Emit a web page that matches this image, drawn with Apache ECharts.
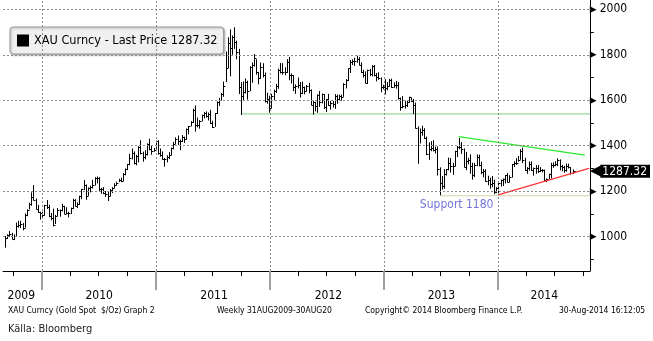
<!DOCTYPE html>
<html>
<head>
<meta charset="utf-8">
<script src="https://cdn.jsdelivr.net/npm/echarts@6/dist/echarts.min.js"></script>
<style>
  html, body { margin: 0; padding: 0; background: #fff; }
  #chart { width: 653px; height: 341px; }
</style>
</head>
<body>
<div id="chart"></div>
<script>
// Gold spot (XAU) weekly bars, week ending Friday, first bar 4 Sep 2009.
const firstWeek = '2009-09-04';

const closes = [
  996,1006,1011,992,1004,1049,1052,1056,1040,1096,1118,1145,1176,1162,1121,1110,1104,1096,
  1138,1131,1091,1083,1050,1092,1117,1118,1133,1102,1106,1105,1126,1162,1136,1142,1180,1209,1228,1177,1212,1218,1226,1256,1256,1208,1210,1190,1188,1181,1204,1215,1227,1237,1249,1246,1276,1296,1318,1346,1368,1325,1357,1394,1366,1352,1362,1406,1385,1379,1380,1421,
  1369,1360,1342,1341,1349,1361,1388,1409,1429,1421,1419,1437,1429,1474,1486,1504,1556,1491,1493,1511,1536,1542,1529,1539,1500,1483,1542,1593,1601,1628,1663,1742,1852,1828,1877,1856,1812,1657,1620,1636,1682,1642,1745,1753,1788,1724,1696,1746,1713,1598,1606,1566,
  1617,1640,1664,1731,1725,1725,1724,1770,1710,1711,1658,1662,1669,1631,1659,1642,1663,1645,1579,1592,1573,1622,1591,1627,1572,1604,1579,1589,1583,1619,1605,1620,1616,1671,1691,1740,1770,1772,1773,1780,1757,1724,1712,1676,1731,1714,1751,1713,1702,1696,1658,1657,
  1656,1662,1687,1658,1667,1667,1609,1572,1576,1577,1592,1613,1595,1581,1476,1404,1462,1470,1433,1365,1386,1392,1383,1387,1297,1234,1223,1277,1296,1322,1310,1312,1376,1396,1395,1387,1308,1332,1338,1310,1272,1315,1352,1315,1286,1287,1243,1250,1230,1234,1196,1213,
  1237,1248,1252,1270,1240,1263,1318,1323,1326,1339,1379,1336,1294,1303,1318,1294,1300,1302,1288,1293,1292,1250,1252,1274,1316,1316,1320,1337,1310,1307,1294,1310,1305,1280,1287.32
];

const highs = [
  1003,1010,1025,1017,1010,1062,1070,1070,1060,1102,1120,1150,1195,1227,1168,1140,1110,1110,
  1140,1161,1140,1104,1123,1096,1126,1120,1145,1136,1130,1110,1128,1167,1165,1151,1180,1210,1249,1230,1217,1225,1250,1262,1265,1262,1215,1218,1201,1197,1210,1218,1235,1242,1255,1259,1280,1300,1320,1365,1388,1375,1360,1398,1424,1374,1380,1411,1431,1400,1390,1422,
  1424,1388,1375,1346,1358,1372,1392,1417,1437,1445,1427,1447,1440,1476,1487,1508,1563,1577,1524,1513,1537,1548,1551,1546,1558,1510,1544,1595,1610,1632,1682,1814,1877,1912,1885,1921,1862,1826,1680,1683,1696,1686,1750,1766,1803,1780,1725,1766,1763,1722,1633,1620,
  1628,1647,1672,1739,1764,1763,1745,1781,1791,1718,1710,1670,1700,1680,1682,1660,1667,1676,1648,1598,1593,1626,1641,1630,1628,1605,1628,1597,1597,1627,1625,1625,1625,1675,1693,1740,1777,1780,1787,1796,1790,1767,1734,1727,1735,1738,1754,1755,1720,1723,1700,1668,
  1693,1680,1694,1695,1679,1685,1680,1612,1619,1598,1597,1616,1612,1606,1590,1485,1476,1488,1477,1440,1415,1420,1424,1396,1397,1305,1267,1297,1298,1348,1346,1325,1378,1399,1434,1416,1388,1373,1347,1362,1325,1325,1362,1361,1330,1298,1297,1268,1260,1267,1250,1218,
  1240,1251,1256,1271,1280,1270,1320,1332,1345,1355,1385,1392,1347,1306,1331,1331,1304,1315,1315,1306,1297,1295,1256,1277,1325,1327,1332,1345,1340,1316,1312,1322,1321,1305,1296
];

const lows = [
  952,990,1000,988,985,1002,1040,1038,1028,1040,1090,1120,1136,1160,1120,1105,1075,1086,
  1092,1122,1086,1072,1045,1056,1090,1088,1111,1100,1100,1085,1100,1122,1134,1126,1140,1165,1205,1162,1180,1195,1212,1225,1234,1198,1189,1187,1175,1157,1177,1192,1213,1225,1240,1240,1245,1270,1293,1314,1340,1318,1314,1327,1362,1330,1340,1357,1380,1360,1374,1376,
  1360,1352,1339,1308,1327,1341,1358,1384,1408,1403,1380,1417,1412,1427,1450,1485,1500,1462,1481,1475,1507,1520,1523,1511,1496,1478,1483,1540,1575,1600,1615,1680,1742,1705,1800,1826,1780,1627,1535,1600,1630,1603,1640,1677,1748,1712,1670,1695,1700,1590,1585,1545,
  1564,1600,1632,1650,1718,1712,1710,1720,1688,1674,1640,1628,1652,1612,1627,1626,1638,1630,1578,1537,1551,1545,1571,1586,1562,1548,1575,1559,1568,1562,1585,1598,1598,1615,1652,1685,1720,1755,1751,1765,1753,1720,1700,1675,1672,1706,1705,1705,1683,1690,1635,1648,
  1626,1644,1660,1655,1655,1651,1603,1554,1565,1563,1570,1590,1592,1539,1476,1321,1410,1444,1430,1359,1338,1376,1375,1366,1269,1180,1207,1211,1269,1292,1282,1272,1310,1350,1385,1364,1305,1293,1318,1277,1251,1262,1310,1309,1275,1261,1242,1226,1211,1218,1187,1192,
  1182,1221,1223,1234,1238,1240,1260,1307,1316,1330,1338,1324,1289,1277,1290,1290,1268,1277,1280,1284,1283,1246,1240,1252,1256,1303,1310,1310,1292,1288,1281,1286,1300,1273,1276
];

// Axis furniture
const yearStarts = ['2010-01-01', '2011-01-01', '2012-01-01', '2013-01-01', '2014-01-01'];
const quarterStarts = [
  '2009-10-01',
  '2010-04-01', '2010-07-01', '2010-10-01',
  '2011-04-01', '2011-07-01', '2011-10-01',
  '2012-04-01', '2012-07-01', '2012-10-01',
  '2013-04-01', '2013-07-01', '2013-10-01',
  '2014-04-01', '2014-07-01', '2014-10-01'
];
const yearLabels = ['2009', '2010', '2011', '2012', '2013', '2014'];
const yearLabelDates = ['2009-10-26', '2010-07-03', '2011-07-06', '2012-07-07', '2013-07-04', '2014-05-30'];
const priceTicks = [1000, 1200, 1400, 1600, 1800, 2000];
const minorPriceTicks = [900, 1100, 1300, 1500, 1700, 1900];

// Drawn technical lines
const breakdownLevel = [['2011-09-30', 1540], ['2014-10-23', 1540]];
const fallingTrend = [['2013-08-28', 1440], ['2014-10-07', 1359]];
const risingTrend = [['2014-01-02', 1184], ['2014-10-20', 1301]];
const supportLevel = [['2013-06-28', 1180], ['2014-10-23', 1180]];
const supportNote = { text: 'Support 1180', date: '2013-08-22', value: 1180 };

const FONT = "'DejaVu Sans Condensed', 'DejaVu Sans', sans-serif";
const ms = d => Date.parse(d);
const DAY = 86400000;
const xMin = Date.parse('2009-08-28T10:00:00Z');
const xMax = ms('2014-10-23');
const yMin = 849.2, yMax = 2040.9;

const weekStart = ms(firstWeek);
const bars = closes.map((c, i) => [weekStart + i * 7 * DAY, highs[i], lows[i], c]);
const lastPrice = closes[closes.length - 1];

const toPts = arr => arr.map(p => [ms(p[0]), p[1]]);
const labelByDate = {};
yearLabelDates.forEach((d, i) => { labelByDate[ms(d)] = yearLabels[i]; });

const chart = echarts.init(document.getElementById('chart'), null, { renderer: 'canvas' });

const gridDots = { color: '#8c8c8c', type: [2, 2], width: 1 };
const footStyle = { fontSize: 8.5, fontWeight: 'normal', color: '#000', fontFamily: FONT };

// dotted grid: horizontal at labelled prices, vertical at year boundaries
const gridLines = [
  ...priceTicks.map(v => ({ yAxis: v })),
  ...yearStarts.map(d => ({ xAxis: ms(d) }))
];

chart.setOption({
  animation: false,
  backgroundColor: '#fff',
  textStyle: { fontFamily: FONT },
  title: [
    { text: 'XAU Curncy (Gold Spot  $/Oz) Graph 2', left: 8, top: 306, padding: 0, textStyle: footStyle },
    { text: 'Weekly 31AUG2009-30AUG20', left: 217, top: 306, padding: 0, textStyle: footStyle },
    { text: 'Copyright\u00a9 2014 Bloomberg Finance L.P.', left: 365, top: 306, padding: 0, textStyle: footStyle },
    { text: '30-Aug-2014 16:12:05', left: 559, top: 306, padding: 0, textStyle: footStyle },
    { text: 'Källa: Bloomberg', left: 8, top: 324, padding: 0,
      textStyle: { fontSize: 11, fontWeight: 'normal', color: '#222',
        fontFamily: "'Liberation Sans Narrow', 'DejaVu Sans Condensed', sans-serif" } }
  ],
  legend: {
    left: 10, top: 27,
    padding: [7, 6, 7, 7],
    itemWidth: 12, itemHeight: 12,
    selectedMode: false,
    backgroundColor: '#f0f0f0',
    borderColor: '#9a9a9a', borderWidth: 1, borderRadius: 3,
    shadowColor: 'rgba(0,0,0,0.3)', shadowBlur: 2, shadowOffsetX: 1, shadowOffsetY: 1,
    textStyle: { fontSize: 12.6, color: '#000', fontFamily: FONT },
    formatter: name => name + ' - Last Price ' + lastPrice.toFixed(2),
    data: [{ name: 'XAU Curncy', icon: 'rect', itemStyle: { color: '#000' } }]
  },
  grid: { left: 3, right: 55, top: 0, bottom: 70, containLabel: false },
  xAxis: [
    {
      type: 'value', min: xMin, max: xMax, position: 'bottom',
      axisLine: { show: true, lineStyle: { color: '#000', width: 1 } },
      axisTick: { show: true, length: 5, lineStyle: { color: '#000' },
        customValues: quarterStarts.map(ms) },
      axisLabel: {
        customValues: yearLabelDates.map(ms),
        margin: 19, fontSize: 12, color: '#000', fontFamily: FONT,
        formatter: v => labelByDate[v] || ''
      },
      splitLine: { show: false }
    },
    {
      type: 'value', min: xMin, max: xMax, position: 'bottom',
      axisLine: { show: false },
      axisTick: { show: true, length: 19, lineStyle: { color: '#a0a0a0', width: 2 },
        customValues: yearStarts.map(ms) },
      axisLabel: { show: false },
      splitLine: { show: false }
    }
  ],
  yAxis: [
    {
      type: 'value', min: yMin, max: yMax, position: 'right',
      axisLine: { show: true, lineStyle: { color: '#000', width: 1 } },
      axisTick: { show: false, customValues: priceTicks },
      axisLabel: {
        customValues: priceTicks, margin: 0, color: '#000',
        formatter: v => '{a|\u25B6}{b|' + v + '}',
        rich: {
          a: { fontSize: 9, color: '#000', padding: [0, 3, 0, 0], fontFamily: 'DejaVu Sans' },
          b: { fontSize: 12, color: '#000', fontFamily: FONT }
        }
      },
      splitLine: { show: false }
    },
    {
      type: 'value', min: yMin, max: yMax, position: 'right',
      axisLine: { show: false },
      axisTick: { show: true, length: 4, lineStyle: { color: '#000' },
        customValues: minorPriceTicks },
      axisLabel: { show: false },
      splitLine: { show: false }
    },
    {
      type: 'value', min: yMin, max: yMax, position: 'right',
      axisLine: { show: false },
      axisTick: { show: false, customValues: [lastPrice] },
      axisLabel: {
        customValues: [lastPrice], margin: 0,
        formatter: v => '{arr|\u25C0}{box|' + v.toFixed(2) + '}',
        rich: {
          arr: { fontSize: 15, color: '#000', lineHeight: 15, padding: [0, -1, 0, 0], fontFamily: 'DejaVu Sans' },
          box: { fontSize: 12, color: '#fff', backgroundColor: '#000', lineHeight: 14,
            padding: [1, 3, 0, 2], fontFamily: FONT }
        }
      },
      splitLine: { show: false }
    }
  ],
  series: [
    {
      name: 'breakdown', type: 'line', silent: true, showSymbol: false, z: 1,
      data: toPts(breakdownLevel),
      lineStyle: { color: '#7fcf7f', width: 1 },
      markLine: {
        silent: true, symbol: ['none', 'none'],
        label: { show: false },
        lineStyle: gridDots,
        data: gridLines
      }
    },
    {
      name: 'XAU Curncy',
      type: 'custom',
      xAxisIndex: 0, yAxisIndex: 0,
      silent: true, z: 3,
      encode: { x: 0, y: [1, 2, 3] },
      data: bars,
      renderItem: (params, api) => {
        const t = api.value(0);
        const hi = api.coord([t, api.value(1)]);
        const lo = api.coord([t, api.value(2)]);
        const cl = api.coord([t, api.value(3)]);
        const px = Math.round(hi[0]) + 0.5;
        const cy = Math.round(cl[1]) + 0.5;
        return {
          type: 'group',
          children: [
            { type: 'line', shape: { x1: px, y1: hi[1], x2: px, y2: lo[1] },
              style: { stroke: '#000', lineWidth: 1 } },
            { type: 'line', shape: { x1: px, y1: cy, x2: px + 2, y2: cy },
              style: { stroke: '#000', lineWidth: 1 } }
          ]
        };
      }
    },
    {
      name: 'support', type: 'line', silent: true, showSymbol: false,
      data: toPts(supportLevel),
      lineStyle: { color: '#d6d2a6', width: 1 },
      markPoint: {
        symbol: 'circle', symbolSize: 0, silent: true,
        label: { show: true, position: 'inside', offset: [0, 9], color: '#7474d8',
          fontSize: 12, fontFamily: FONT, formatter: supportNote.text },
        data: [{ coord: [ms(supportNote.date), supportNote.value] }]
      }
    },
    {
      name: 'falling', type: 'line', silent: true, showSymbol: false, z: 4,
      data: toPts(fallingTrend),
      lineStyle: { color: '#2ee82e', width: 1.3 }
    },
    {
      name: 'rising', type: 'line', silent: true, showSymbol: false, z: 4,
      data: toPts(risingTrend),
      lineStyle: { color: '#ff3333', width: 1.3 }
    }
  ]
});
</script>
</body>
</html>
